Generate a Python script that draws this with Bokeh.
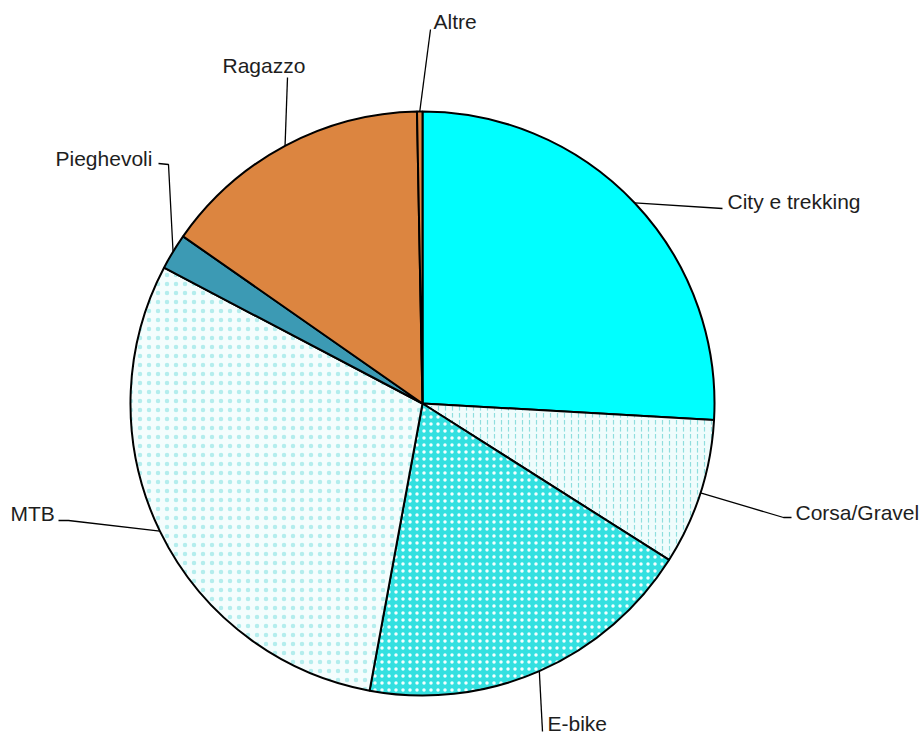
import math
from bokeh.plotting import figure
from bokeh.models import Range1d, ColumnDataSource
from bokeh.core.properties import value
from bokeh.embed import file_html
from bokeh.resources import INLINE

# ---- data ----
categories = ["City e trekking", "Corsa/Gravel", "E-bike", "MTB", "Pieghevoli", "Ragazzo", "Altre"]
shares = [25.9, 8.1, 18.9, 29.8, 2.0, 15.0, 0.3]

# ---- styles ----
fills = ["#00ffff", "#effcfc", "#33e0e0", "#f4fdfd", "#3c9ab4", "#dc8540", "#dc8540"]
hatches = [" ", "vertical_dash", "dot", "dot", " ", " ", " "]
hatch_colors = ["#00ffff", "#8fdede", "#f4ffff", "#b4eded", "#3c9ab4", "#dc8540", "#dc8540"]
hatch_scales = [8, 7, 7, 9, 8, 8, 8]
hatch_weights = [1, 1.2, 4.2, 2.4, 1, 1, 1]

# layout (screen pixel coords; y measured downward -> data y = -screen y)
CX, CY, R = 422, 403, 292
label_pos = [(727, 201), (795, 512), (547, 723), (10, 513), (55, 158), (222, 65), (433, 21)]
leader_end = [[(722, 208)], [(783, 517), (791, 517)], [(542, 731)], [(68, 520), (58, 520)],
              [(168, 164), (158, 163)], [(287, 77)], [(430, 29)]]

W, H = 923, 735
p = figure(width=W, height=H, output_backend="svg", toolbar_location=None,
           x_range=Range1d(0, W), y_range=Range1d(-H, 0),
           min_border=0, match_aspect=False)
p.axis.visible = False
p.grid.visible = False
p.outline_line_color = None
p.background_fill_color = "white"
p.border_fill_color = "white"

total = sum(shares)
starts, ends, mids = [], [], []
a = 90.0
for s in shares:
    span = s / total * 360.0
    starts.append(math.radians(a))
    ends.append(math.radians(a - span))
    mids.append(math.radians(a - span / 2))
    a -= span

src = ColumnDataSource(dict(start=starts, end=ends, fill=fills, hatch=hatches,
                            hcol=hatch_colors, hscale=hatch_scales, hw=hatch_weights))
p.wedge(x=CX, y=-CY, radius=R, start_angle="start", end_angle="end", direction="clock",
        fill_color="fill", hatch_pattern="hatch", hatch_color="hcol", hatch_scale="hscale",
        hatch_weight="hw", line_color="black", line_width=2, source=src)

# leader lines
xs, ys = [], []
for m, ends_pts in zip(mids, leader_end):
    ex = CX + R * math.cos(m)
    ey = CY - R * math.sin(m)
    pts = [(ex, ey)] + ends_pts
    xs.append([q[0] for q in pts])
    ys.append([-q[1] for q in pts])
p.multi_line(xs=xs, ys=ys, line_color="black", line_width=1.3)

p.text(x=[q[0] for q in label_pos], y=[-q[1] for q in label_pos], text=categories,
       text_font=value("Liberation Sans"), text_font_size="21px", text_color="#1e1e1e",
       text_align="left", text_baseline="middle")

open("out.html", "w").write(file_html(p, INLINE))
